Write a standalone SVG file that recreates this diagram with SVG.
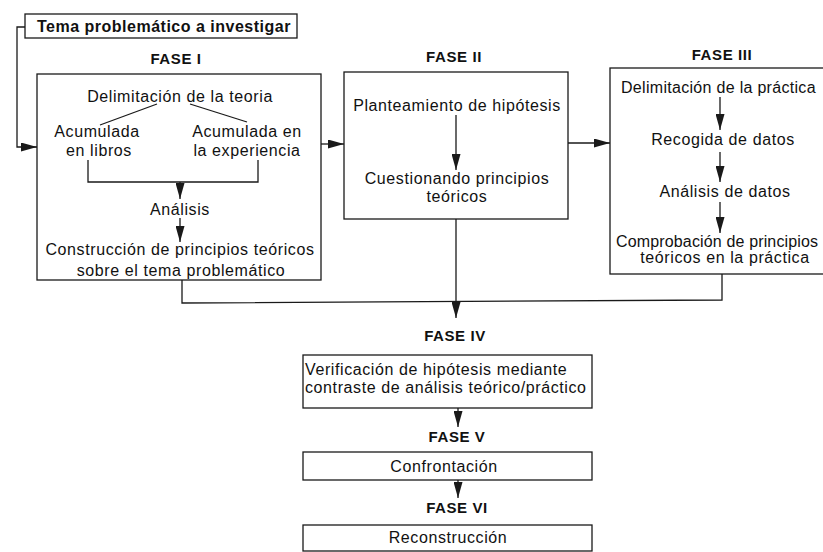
<svg xmlns="http://www.w3.org/2000/svg" width="823" height="552" viewBox="0 0 823 552">
<style>
  .box { fill: none; stroke: #1a1a1a; stroke-width: 1.3; }
  .ln { fill: none; stroke: #1a1a1a; stroke-width: 1.3; }
  .t { font-family: "Liberation Sans", Arial, sans-serif; font-size: 16px; letter-spacing: 0.6px; fill: #111; }
  .c { text-anchor: middle; }
  .h { font-family: "Liberation Sans", Arial, sans-serif; font-size: 15px; font-weight: bold; letter-spacing: 0.6px; fill: #111; text-anchor: middle; }
  .tb { font-family: "Liberation Sans", Arial, sans-serif; font-size: 16px; font-weight: bold; letter-spacing: 0.5px; fill: #111; }
</style>
<defs>
  <marker id="ah" markerUnits="userSpaceOnUse" markerWidth="16" markerHeight="9" refX="16" refY="4.5" orient="auto">
    <path d="M0,0 L16,4.5 L0,9 Z" fill="#1a1a1a"/>
  </marker>
</defs>
<rect width="823" height="552" fill="#fff"/>

<g id="tema">
  <rect class="box" x="25" y="14" width="272" height="24"/>
  <text class="tb" x="37" y="32">Tema problemático a investigar</text>
</g>

<g id="fase1">
  <text class="h" x="176" y="64">FASE I</text>
  <rect class="box" x="37" y="74" width="284" height="206"/>
  <text class="t c" x="180" y="102">Delimitación de la teoria</text>
  <text class="t c" x="97" y="137">Acumulada</text>
  <text class="t c" x="99" y="156">en libros</text>
  <text class="t c" x="247" y="137">Acumulada en</text>
  <text class="t c" x="247" y="156">la experiencia</text>
  <text class="t c" x="180" y="215">Análisis</text>
  <text class="t c" x="180" y="255">Construcción de principios teóricos</text>
  <text class="t c" x="181" y="276">sobre el tema problemático</text>
</g>

<g id="fase2">
  <text class="h" x="454" y="62">FASE II</text>
  <rect class="box" x="344" y="72" width="224" height="147"/>
  <text class="t c" x="457" y="111">Planteamiento de hipótesis</text>
  <text class="t c" x="457" y="184">Cuestionando principios</text>
  <text class="t c" x="457" y="202">teóricos</text>
</g>

<g id="fase3">
  <text class="h" x="722" y="60">FASE III</text>
  <rect class="box" x="610" y="68" width="230" height="206"/>
  <text class="t" x="621" y="93" style="letter-spacing:0.3px">Delimitación de la práctica</text>
  <text class="t c" x="723" y="145">Recogida de datos</text>
  <text class="t c" x="725" y="197">Análisis de datos</text>
  <text class="t" x="616" y="247" style="letter-spacing:0.15px">Comprobación de principios</text>
  <text class="t c" x="725" y="263">teóricos en la práctica</text>
</g>

<g id="fase4">
  <text class="h" x="455" y="341">FASE IV</text>
  <rect class="box" x="303" y="355" width="289" height="53"/>
  <text class="t" x="305" y="375">Verificación de hipótesis mediante</text>
  <text class="t" x="305" y="393">contraste de análisis teórico/práctico</text>
</g>

<g id="fase5">
  <text class="h" x="457" y="442">FASE V</text>
  <rect class="box" x="303" y="452" width="289" height="28"/>
  <text class="t c" x="444" y="472">Confrontación</text>
</g>

<g id="fase6">
  <text class="h" x="457" y="513">FASE VI</text>
  <rect class="box" x="303" y="525" width="289" height="26"/>
  <text class="t c" x="448" y="543">Reconstrucción</text>
</g>

<g id="connectors">
  <polyline class="ln" points="25,27 17,27 17,147 37,147" marker-end="url(#ah)"/>
  <line class="ln" x1="321" y1="144" x2="344" y2="144" marker-end="url(#ah)"/>
  <line class="ln" x1="568" y1="143" x2="610" y2="143" marker-end="url(#ah)"/>
  <line class="ln" x1="157" y1="104" x2="100" y2="125"/>
  <line class="ln" x1="190" y1="104" x2="247" y2="122"/>
  <polyline class="ln" points="88,160 88,182 258,182 258,160"/>
  <line class="ln" x1="180" y1="182" x2="180" y2="199" marker-end="url(#ah)"/>
  <line class="ln" x1="180" y1="218" x2="180" y2="242" marker-end="url(#ah)"/>
  <line class="ln" x1="456" y1="115" x2="456" y2="170" marker-end="url(#ah)"/>
  <line class="ln" x1="720" y1="97" x2="720" y2="130" marker-end="url(#ah)"/>
  <line class="ln" x1="720" y1="152" x2="720" y2="182" marker-end="url(#ah)"/>
  <line class="ln" x1="720" y1="202" x2="720" y2="233" marker-end="url(#ah)"/>
  <polyline class="ln" points="182,280 182,303 722,300 722,274"/>
  <line class="ln" x1="456" y1="219" x2="456" y2="318" marker-end="url(#ah)"/>
  <line class="ln" x1="458" y1="408" x2="458" y2="427" marker-end="url(#ah)"/>
  <line class="ln" x1="458" y1="480" x2="458" y2="498" marker-end="url(#ah)"/>
</g>
</svg>
